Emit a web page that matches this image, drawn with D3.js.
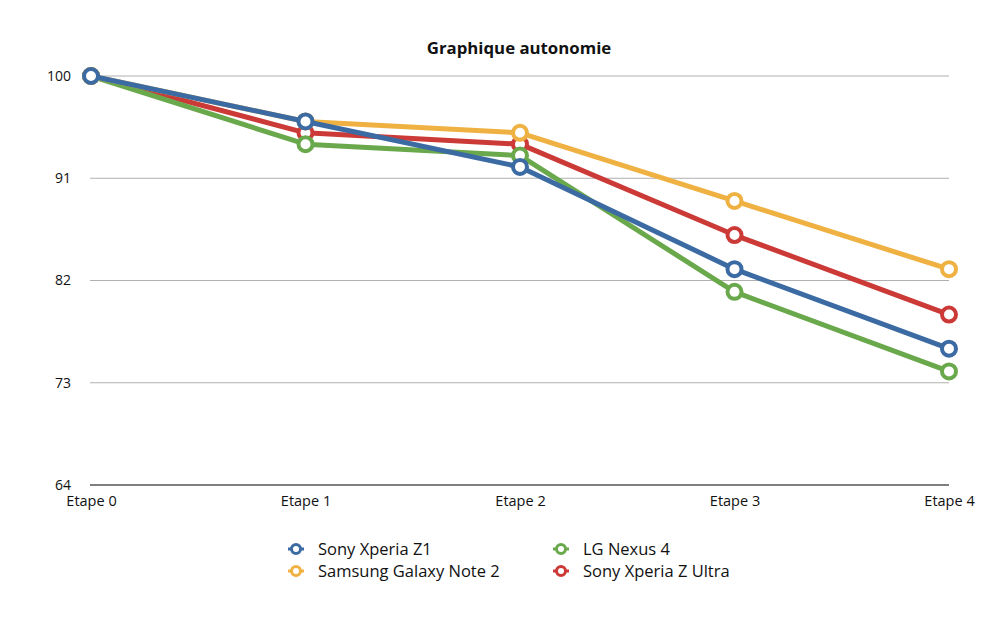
<!DOCTYPE html>
<html>
<head>
<meta charset="utf-8">
<script src="https://cdn.jsdelivr.net/npm/d3@7"></script>
<style>
  html, body { margin: 0; padding: 0; background: #fff; }
  svg { display: block; }
</style>
</head>
<body>
<svg id="chart" width="1000" height="618"></svg>
<script>
const categories = ["Etape 0", "Etape 1", "Etape 2", "Etape 3", "Etape 4"];
const seriesNames = ["Sony Xperia Z1", "Samsung Galaxy Note 2", "LG Nexus 4", "Sony Xperia Z Ultra"];
const sonyZ1 = [100, 96, 92, 83, 76];
const samsungNote2 = [100, 96, 95, 89, 83];
const lgNexus4 = [100, 94, 93, 81, 74];
const sonyZUltra = [100, 95, 94, 86, 79];
const yTicks = [64, 73, 82, 91, 100];
const colors = ["#3b6ba2", "#efb142", "#6aa84c", "#cc3a37"];
const title = "Graphique autonomie";

const series = [
  { name: seriesNames[0], values: sonyZ1, color: colors[0] },
  { name: seriesNames[1], values: samsungNote2, color: colors[1] },
  { name: seriesNames[2], values: lgNexus4, color: colors[2] },
  { name: seriesNames[3], values: sonyZUltra, color: colors[3] }
];

const svg = d3.select("#chart");
const font = "'Open Sans', sans-serif";

const x = d3.scalePoint().domain(categories).range([91, 949]);
const y = d3.scaleLinear().domain([64, 100]).range([485, 76]);

svg.append("text")
  .attr("x", 519).attr("y", 54)
  .attr("text-anchor", "middle")
  .attr("font-family", font).attr("font-weight", "bold").attr("font-size", 16.8)
  .attr("fill", "#111")
  .text(title);

// gridlines
const grid = svg.append("g");
grid.selectAll("line").data(yTicks).join("line")
  .attr("x1", 90).attr("x2", 949)
  .attr("y1", d => y(d)).attr("y2", d => y(d))
  .attr("stroke", d => d === 64 ? "#555" : "#b0b0b0")
  .attr("stroke-width", d => d === 64 ? 1.5 : 1);

// y labels
const yAxis = d3.axisLeft(y).tickValues(yTicks).tickSize(0).tickPadding(0);
const ya = svg.append("g").attr("transform", "translate(71,0)").call(yAxis);
ya.select(".domain").remove();
ya.selectAll("text").attr("font-family", font).attr("font-size", 14).attr("fill", "#111");

// x labels
const xAxis = d3.axisBottom(x).tickSize(0).tickPadding(0);
const xa = svg.append("g").attr("transform", "translate(0,496)").call(xAxis);
xa.select(".domain").remove();
xa.selectAll("text").attr("font-family", font).attr("font-size", 14.5).attr("fill", "#111");

// lines, draw order bottom→top: red, green, orange, blue
const line = d3.line().x((d, i) => x(categories[i])).y(d => y(d));
const order = [3, 2, 1, 0];
order.forEach(k => {
  const s = series[k];
  const g = svg.append("g");
  g.append("path").attr("d", line(s.values))
    .attr("fill", "none").attr("stroke", s.color).attr("stroke-width", 5)
    .attr("stroke-linejoin", "round").attr("stroke-linecap", "round");
  g.selectAll("circle").data(s.values).join("circle")
    .attr("cx", (d, i) => x(categories[i])).attr("cy", d => y(d))
    .attr("r", 7).attr("fill", "#fff")
    .attr("stroke", s.color).attr("stroke-width", 4);
});

// legend
const legendPos = [[296, 549], [296, 571], [561, 549], [561, 571]];
series.forEach((s, k) => {
  const [lx, ly] = legendPos[k];
  svg.append("line").attr("x1", lx - 8).attr("x2", lx + 8).attr("y1", ly).attr("y2", ly)
    .attr("stroke", s.color).attr("stroke-width", 3);
  svg.append("circle").attr("cx", lx).attr("cy", ly).attr("r", 4.5)
    .attr("fill", "#fff").attr("stroke", s.color).attr("stroke-width", 3);
  svg.append("text").attr("x", lx + 22).attr("y", ly + 6)
    .attr("font-family", font).attr("font-size", 16.5).attr("fill", "#111")
    .text(s.name);
});
</script>
</body>
</html>
